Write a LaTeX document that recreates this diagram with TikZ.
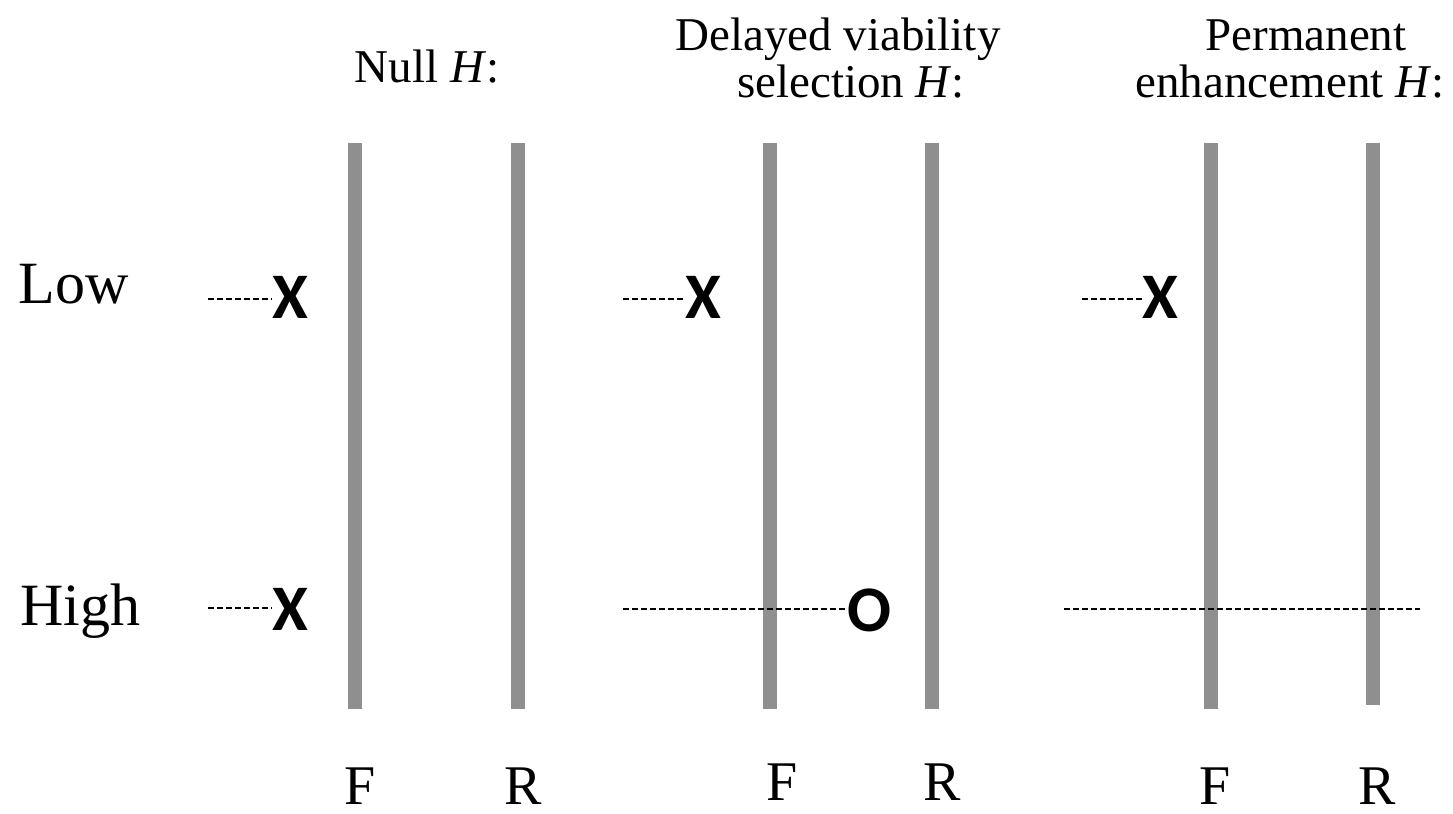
\documentclass[tikz,border=0pt]{standalone}
\usepackage{fontspec}
\setmainfont{Liberation Serif}
\newfontfamily\mkfont{Carlito}
\definecolor{bargray}{HTML}{8F8F8F}
\begin{document}
\begin{tikzpicture}[x=0.5pt,y=-0.5pt,
  bar/.style={draw=bargray, line width=7pt},
  dline/.style={draw=black, dash pattern=on 3pt off 1.5pt, line width=0.75pt},
  cross/.style={font=\mkfont\bfseries\fontsize{32.5}{39}\selectfont, inner sep=0pt},
  rowlbl/.style={font=\fontsize{30}{36}\selectfont, inner sep=0pt, anchor=base west},
  collbl/.style={font=\fontsize{28}{34}\selectfont, inner sep=0pt, anchor=base},
  title/.style={font=\fontsize{23.5}{28}\selectfont, inner sep=0pt, anchor=base}]
\useasboundingbox (0,0) rectangle (1453,814);

% titles
\node[title] (t1) at (427,82) {Null \textit{H}:};
\node[title] (t2a) at (838,50) {Delayed viability};
\node[title] (t2b) at (851,97) {selection \textit{H}:};
\node[title] (t3a) at (1306,50) {Permanent};
\node[title] (t3b) at (1290,97) {enhancement \textit{H}:};

% row labels
\node[rowlbl] (low) at (18,303) {Low};
\node[rowlbl] (high) at (20,625) {High};

% bars
\draw[bar] (355,143) -- (355,709);
\draw[bar] (518,143) -- (518,709);
\draw[bar] (769.5,143) -- (769.5,709);
\draw[bar] (931.5,143) -- (931.5,709);
\draw[bar] (1210.5,143) -- (1210.5,709);
\draw[bar] (1373,143) -- (1373,705);

% column labels
\node[collbl] (f1) at (360,804) {F};
\node[collbl] (r1) at (523,804) {R};
\node[collbl] (f2) at (782,800) {F};
\node[collbl] (r2) at (942,800) {R};
\node[collbl] (f3) at (1215,804) {F};
\node[collbl] (r3) at (1377,804) {R};

% markers
\node[cross] (x1) at (290,297) {X};
\node[cross] (x2) at (290,609) {X};
\node[cross] (x3) at (703,297) {X};
\node[cross] (o1) at (869,610) {O};
\node[cross] (x4) at (1160,297) {X};

% dashed lines
\coordinate (d1) at (208,299);
\coordinate (d2) at (208,608);
\coordinate (d3) at (623,299);
\coordinate (d4) at (623,609);
\coordinate (d5) at (1082,299);
\coordinate (d6a) at (1064,609);
\coordinate (d6b) at (1420,609);
\draw[dline] (d1) -- (d1 -| x1.west);
\draw[dline] (d2) -- (d2 -| x2.west);
\draw[dline] (d3) -- (d3 -| x3.west);
\draw[dline] (d4) -- (d4 -| o1.west);
\draw[dline] (d5) -- (d5 -| x4.west);
\draw[dline] (d6a) -- (d6b);
\end{tikzpicture}
\end{document}
